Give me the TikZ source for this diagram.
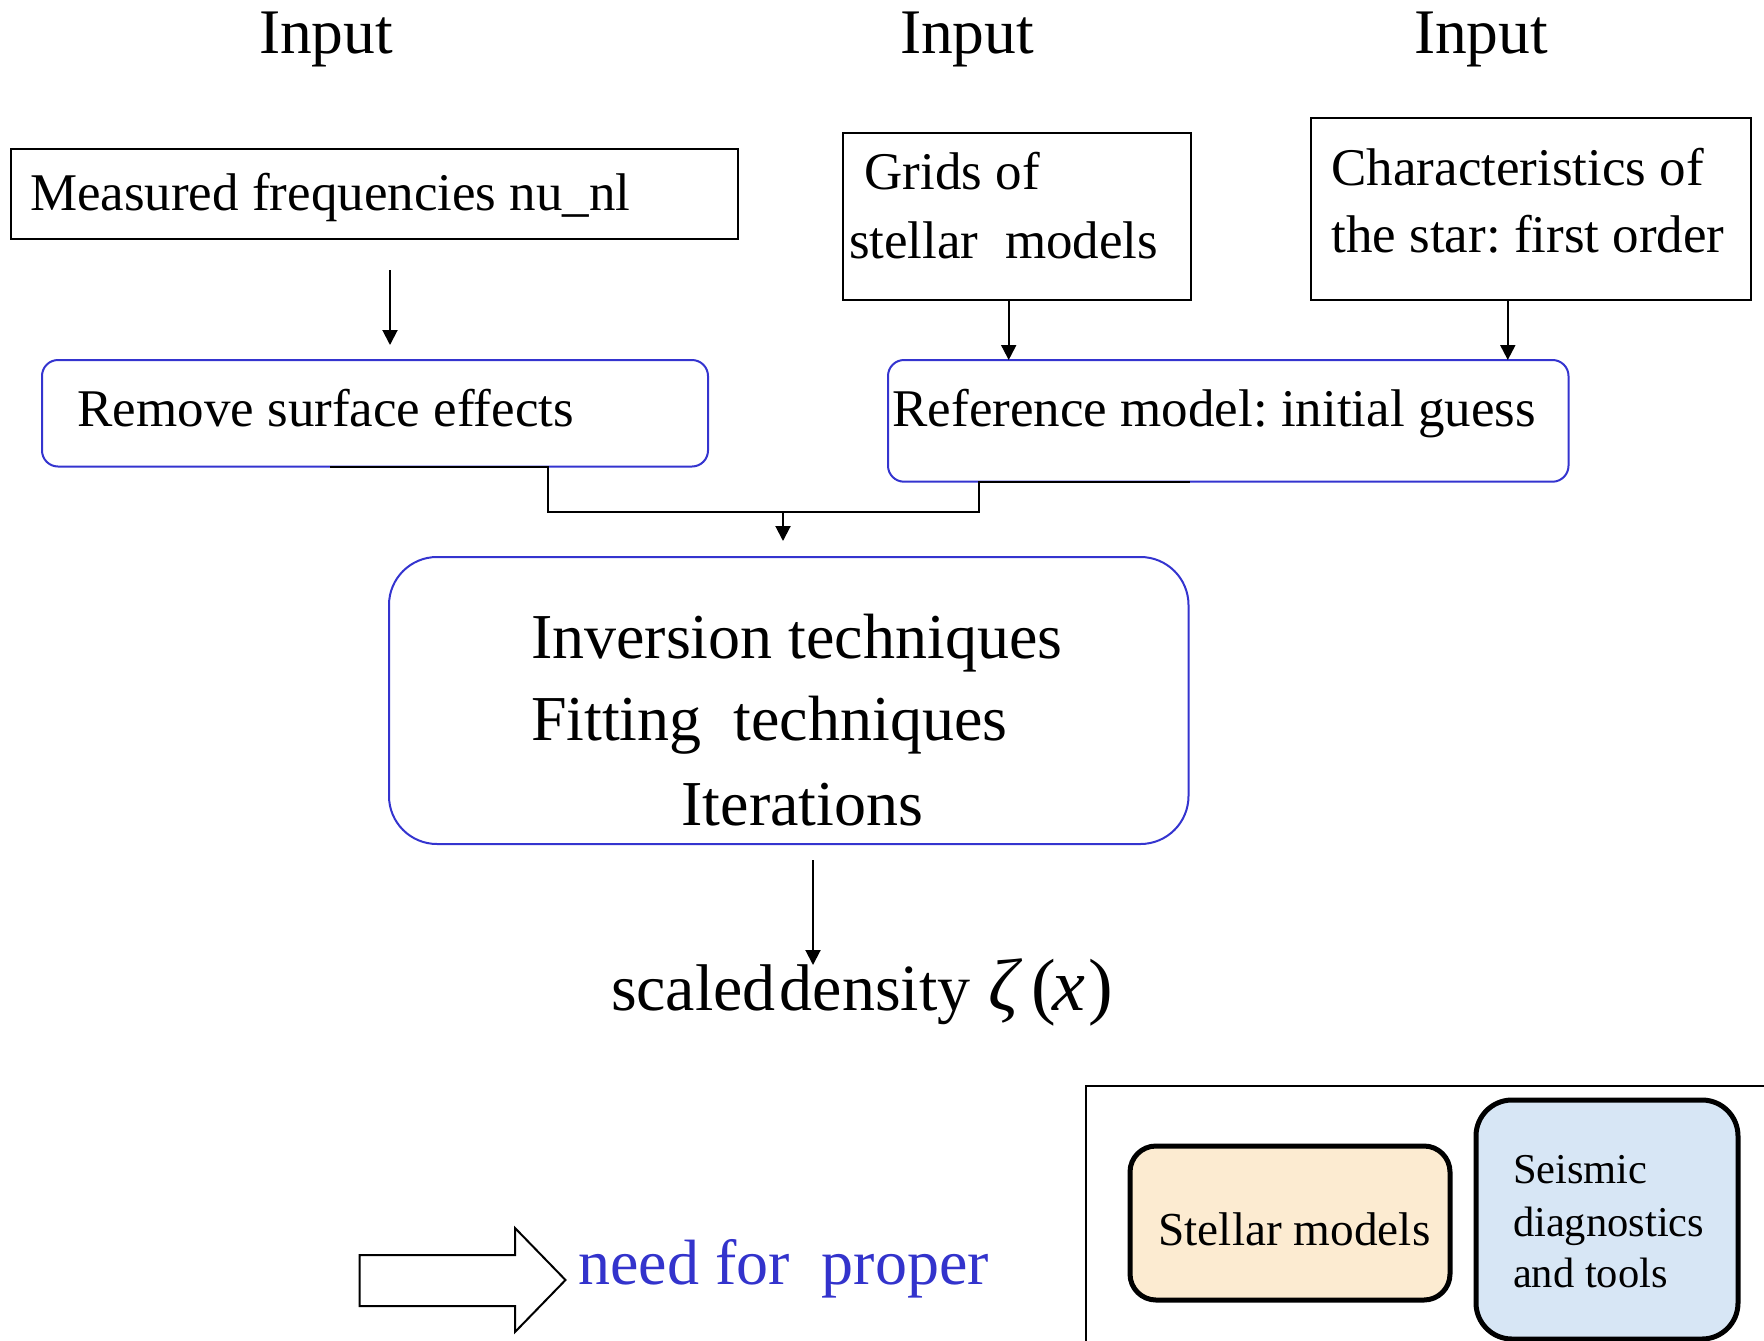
\documentclass[tikz,border=0pt]{standalone}
\usepackage{fontspec}
\setmainfont{Liberation Serif}
\frenchspacing
\usetikzlibrary{arrows.meta,calc}
\definecolor{edgeblue}{HTML}{3434CF}
\definecolor{noteblue}{HTML}{3333CC}
\definecolor{sandfill}{HTML}{FCEBD1}
\definecolor{skyfill}{HTML}{D7E6F5}
\begin{document}
\begin{tikzpicture}[x=1pt,y=-1pt,
  txt/.style={anchor=base west,inner sep=0pt,outer sep=0pt},
  bodyfont/.style={font=\fontsize{53}{60}\selectfont},
  largefont/.style={font=\fontsize{64}{72}\selectfont},
  plainbox/.style={draw=black,line width=2pt,inner sep=0pt,outer sep=0pt},
  bluebox/.style={draw=edgeblue,line width=2pt,rounded corners=16pt,inner sep=0pt,outer sep=0pt},
  keybox/.style={draw=black,line width=5pt,inner sep=0pt,outer sep=0pt},
  conn/.style={line width=2pt},
  arr/.style={line width=2pt,-{Triangle[length=15pt,width=15pt]}}]
\useasboundingbox (0,0) rectangle (1764,1341);

% headings
\node[txt,font=\fontsize{63.5}{70}\selectfont] (in1) at (259,53) {Input};
\node[txt,font=\fontsize{63.5}{70}\selectfont] (in2) at (900,53) {Input};
\node[txt,font=\fontsize{63.5}{70}\selectfont] (in3) at (1414,53) {Input};

% input boxes
\node[plainbox,minimum width=727pt,minimum height=90pt] (meas) at (374.5,194) {};
\node[txt,bodyfont] (meast) at (30,210) {Measured frequencies nu\_nl};

\node[plainbox,minimum width=348pt,minimum height=167pt] (grids) at (1017,216.5) {};
\node[txt,bodyfont] (grids1) at (864.5,189) {Grids of};
\node[txt,bodyfont] (grids2) at (849,258) {stellar\ \ models};

\node[plainbox,minimum width=440pt,minimum height=182pt] (char) at (1531,209) {};
\node[txt,bodyfont] (char1) at (1331.5,185) {Characteristics of};
\node[txt,bodyfont] (char2) at (1331.5,252.7) {the star: first order};

% intermediate steps
\node[bluebox,minimum width=666pt,minimum height=106.5pt] (rem) at (375,413.25) {};
\node[txt,bodyfont] (remt) at (77.6,426) {Remove surface effects};

\node[bluebox,minimum width=680.5pt,minimum height=121.7pt] (ref) at (1228.25,420.85) {};
\node[txt,bodyfont] (reft) at (892.5,426) {Reference model: initial guess};

% main processing box
\node[bluebox,rounded corners=48pt,minimum width=799.5pt,minimum height=287pt] (big) at (788.75,700.5) {};
\node[txt,largefont] (big1) at (531,658) {Inversion techniques};
\node[txt,largefont] (big2) at (531,740) {Fitting\ \ techniques};
\node[txt,largefont] (big3) at (681.6,825) {Iterations};

% result
\node[txt,font=\fontsize{66}{72}\selectfont] (res) at (611,1010) {scaled\kern4pt density};
\node[txt,font=\fontsize{74}{80}\selectfont] (resmath) at (988,1010)
  {\rlap{\itshape ζ}\hspace{43pt}\rlap{(}\hspace{21pt}\rlap{\itshape x}\hspace{36pt})};

% connectors
\draw[arr] ($(meas.south)+(15.5,31)$) -- ($(rem.north)+(15,-15)$);
\draw[arr] ($(grids.south)+(-8.3,0)$) -- ($(ref.north)+(-219.55,0)$);
\draw[arr] ($(char.south)+(-23.2,0)$) -- ($(ref.north)+(279.55,0)$);
\coordinate (join) at (783,512);
\draw[conn] ($(rem.south)+(-45,0)$) -- ($(rem.south)+(173,0)$) |- (join)
  -| ($(ref.south)+(-249.25,0)$) -- ($(ref.south)+(-38.25,0)$);
\draw[arr] (join) -- ($(join |- big.north)+(0,-16)$);
\draw[arr] ($(big.south)+(24.25,16)$) -- ($(big.south)+(24.25,121)$);

% hollow block arrow and note
\draw[line width=2pt,line join=miter] (359.5,1255) -- (515,1255) -- (515,1228) -- (565.5,1280)
  -- (515,1332) -- (515,1306) -- (359.5,1306) -- cycle;
\node[txt,largefont,text=noteblue] (note) at (578.5,1284) {need for\ \ proper};

% key panel
\draw[line width=2pt] (1085.5,1350) -- (1085.5,1086) -- (1770,1086);
\node[keybox,fill=sandfill,rounded corners=26pt,minimum width=320pt,minimum height=154pt] (keya) at (1290,1223) {};
\node[txt,font=\fontsize{47.3}{52}\selectfont] (keyat) at (1158.5,1245) {Stellar models};
\node[keybox,fill=skyfill,rounded corners=36pt,minimum width=262pt,minimum height=239pt] (keyb) at (1607,1219.5) {};
\node[txt,font=\fontsize{42.5}{48}\selectfont] (keyb1) at (1513,1183) {Seismic};
\node[txt,font=\fontsize{42.5}{48}\selectfont] (keyb2) at (1513,1236) {diagnostics};
\node[txt,font=\fontsize{42.5}{48}\selectfont] (keyb3) at (1513,1287) {and tools};
\end{tikzpicture}
\end{document}
